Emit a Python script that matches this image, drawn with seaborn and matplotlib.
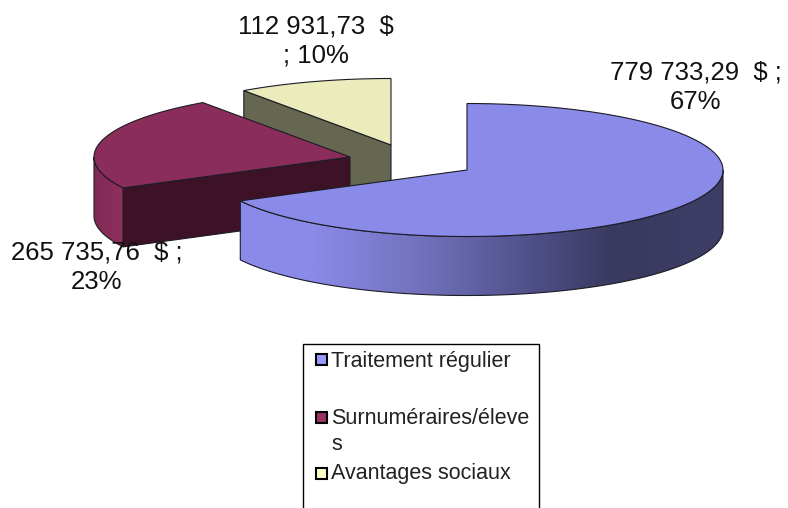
import numpy as np
import matplotlib
matplotlib.use('Agg')
import matplotlib.pyplot as plt
import seaborn as sns
from matplotlib.colors import LinearSegmentedColormap
from matplotlib.patches import Polygon, Rectangle

sns.set_theme(style='white')
plt.rcParams['font.family'] = ['Liberation Sans', 'DejaVu Sans']

# Data
categories = ['Traitement régulier', 'Surnuméraires/éleve\ns', 'Avantages sociaux']
amounts = [779733.29, 265735.76, 112931.73]
amount_labels = ['779 733,29  $ ;\n67%', '265 735,76  $ ;\n23%', '112 931,73  $\n; 10%']

# Colours
top_colors = sns.color_palette(['#8a8ae8', '#8b2d5b', '#ebebbb'])
inner_colors = ['#3a3a60', '#3d1227', '#666750']
key_colors = ['#9999ff', '#993366', '#ffffcc']
edge_color = '#1c1c26'

# Geometry of the pie, in pixels
rx, ry, depth = 256, 66.5, 59
centers = [(467, 170), (350, 157), (391, 145)]
label_pos = [(696, 87), (97, 267), (316, 41)]

shares = np.array(amounts) / sum(amounts)
stops = np.concatenate([[0], np.cumsum(shares)]) * 360

fig = plt.figure(figsize=(7.88, 5.08), dpi=100)
ax = fig.add_axes([0, 0, 1, 1])


def rim(cx, cy, a0, a1, drop=0):
    t = np.radians(np.linspace(a0, a1, 200))
    return np.column_stack([cx + rx * np.sin(t), cy - ry * np.cos(t) + drop])


def gradient_wall(cx, cy, a0, a1, shades, x0, x1, z):
    top = rim(cx, cy, a0, a1)
    bottom = rim(cx, cy, a0, a1, depth)
    wall = Polygon(np.vstack([top, bottom[::-1]]), closed=True, fc='none',
                   ec=edge_color, lw=0.8, zorder=z + 0.1)
    ax.add_patch(wall)
    cmap = LinearSegmentedColormap.from_list('wall', shades)
    img = ax.imshow(np.linspace(0, 1, 256)[None, :], cmap=cmap, aspect='auto',
                    extent=[x0, x1, 508, 0], zorder=z)
    img.set_clip_path(wall)


def slice_top(i, z):
    cx, cy = centers[i]
    pts = np.vstack([[cx, cy], rim(cx, cy, stops[i], stops[i + 1])])
    ax.add_patch(Polygon(pts, closed=True, fc=top_colors[i], ec=edge_color,
                         lw=0.8, joinstyle='miter', zorder=z))


def flat_wall(i, angle, z):
    cx, cy = centers[i]
    edge = rim(cx, cy, angle, angle)[0]
    pts = [(cx, cy), edge, (edge[0], edge[1] + depth), (cx, cy + depth)]
    ax.add_patch(Polygon(pts, closed=True, fc=inner_colors[i], ec=edge_color,
                         lw=0.8, zorder=z))


# back to front: yellow, burgundy, blue
flat_wall(2, stops[2], 1)
slice_top(2, 2)

cx, cy = centers[1]
gradient_wall(cx, cy, stops[1], 270, [(0, '#7f2a54'), (1, '#8f2f5e')], 93, 124, 3)
flat_wall(1, stops[1], 4)
slice_top(1, 5)

cx, cy = centers[0]
blue_shades = [(0, '#8a8ae8'), (0.153, '#8a8ae8'), (0.395, '#6f6fb8'),
               (0.60, '#50508a'), (0.77, '#3a3a60'), (1, '#3d3d66')]
gradient_wall(cx, cy, 90, stops[1], blue_shades, 239, 723, 6)
slice_top(0, 7)

for (x, y), txt in zip(label_pos, amount_labels):
    ax.text(x, y, txt, ha='center', va='center', fontsize=18.5, color='#111111',
            linespacing=1.28, zorder=10)

# Legend box runs past the bottom of the image
ax.add_patch(Rectangle((303.5, 343.5), 236, 180, fc='white', ec='black', lw=1, zorder=8))
key_y = [359, 417, 473]
text_y = [362, 419, 474]
for name, color, ky, ty in zip(categories, key_colors, key_y, text_y):
    ax.add_patch(Rectangle((316, ky - 5.5), 11, 11, fc=color, ec='black', lw=1.5, zorder=9))
    first, *rest = name.split('\n')
    ax.text(331, ty, first, va='center', ha='left', fontsize=15.5, color='#222222', zorder=9)
    for line in rest:
        ax.text(331, ty + 26, line, va='center', ha='left', fontsize=15.5,
                color='#222222', zorder=9)

ax.set_xlim(0, 788)
ax.set_ylim(508, 0)
ax.axis('off')
fig.savefig('out.png', dpi=100, facecolor='white')
